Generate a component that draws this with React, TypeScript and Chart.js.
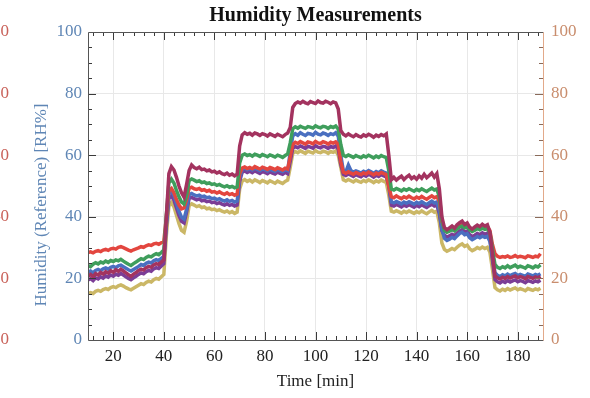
import React, { useEffect, useRef } from 'react';
import { Chart, registerables } from 'chart.js';

Chart.register(...registerables);

const TITLE = 'Humidity Measurements';
const X_TITLE = 'Time [min]';
const Y_TITLE = 'Humidity (Reference) [RH%]';

const START_MINUTE = 10;
const xTickValues = [20, 40, 60, 80, 100, 120, 140, 160, 180];
const yTickValues = [0, 20, 40, 60, 80, 100];

// one value per minute, t = 10 .. 189
const crimsonSeries = [
  20.8, 21.3, 20.5, 21.6, 21.1, 21.9, 21.4, 22.2, 21.7, 22.5, 22.0, 22.8, 22.3, 23.0, 22.4, 21.8, 21.2, 20.7, 21.4, 21.9, 22.6, 23.0, 22.7, 23.5, 23.9, 23.6, 24.4, 24.8, 24.5, 25.3, 26.0,
  40.0, 54.0, 56.3, 55.2, 52.8, 50.0, 47.8, 46.4, 50.5, 55.0, 56.8, 56.0, 55.6, 56.1, 55.3, 55.5, 54.9, 55.2, 54.6, 54.8, 54.2, 54.6, 54.0, 53.7, 54.2, 53.5, 53.9, 53.3, 53.8,
  63.0, 66.6, 67.3, 66.8, 67.1, 66.5, 67.2, 66.9, 66.4, 67.0, 66.7, 66.2, 66.9, 66.5, 66.1, 66.8, 66.4, 66.0, 66.7, 67.2,
  69.0, 75.5, 76.8, 77.3, 76.9, 77.5, 77.0, 76.7, 77.4, 77.1, 76.8, 77.6, 77.1, 76.9, 77.5, 77.2, 76.7, 77.3, 77.0, 75.0,
  68.0, 66.8, 66.3, 66.9, 66.4, 66.0, 66.7, 66.2, 65.9, 66.6, 66.2, 66.8, 66.4, 65.8, 66.5, 66.1, 66.7, 66.3, 66.9, 60.0,
  52.0, 52.8, 51.9, 52.6, 53.2, 52.1, 52.9, 53.5, 52.4, 53.0, 52.2, 53.3, 52.5, 53.8, 52.7, 53.4, 54.2, 52.9, 54.0, 49.0,
  40.0, 36.5, 35.8, 36.4, 37.0, 36.3, 37.4, 38.1, 38.6, 37.5, 38.0, 36.6, 36.0, 36.7, 37.3, 36.8, 37.6, 37.0, 37.4, 35.0,
  28.0, 20.8, 20.2, 19.8, 20.4, 20.0, 20.6, 20.1, 20.5, 20.8, 20.2, 20.6, 20.3, 19.9, 20.6, 20.3, 20.0, 20.5, 20.2, 20.7,
];

const greenSeries = [
  24.2, 23.8, 24.6, 25.1, 24.7, 25.3, 25.0, 25.6, 25.2, 25.8, 25.5, 26.0, 25.7, 26.2, 25.6, 25.1, 24.6, 24.2, 24.8, 25.3, 25.9, 26.4, 26.1, 26.8, 27.2, 27.0, 27.6, 28.0, 27.7, 28.4, 29.2,
  40.5, 51.0, 52.2, 51.0, 48.6, 46.5, 44.8, 44.2, 47.0, 51.8, 52.3, 51.9, 51.4, 51.7, 51.1, 51.3, 50.8, 51.0, 50.5, 50.7, 50.2, 50.5, 50.0, 49.7, 50.1, 49.6, 49.9, 49.4, 49.7,
  57.5, 60.0, 60.4, 59.9, 60.2, 59.7, 60.3, 60.0, 59.6, 60.2, 59.9, 59.5, 60.1, 59.8, 59.4, 60.0, 59.7, 59.3, 59.9, 60.4,
  64.0, 68.6, 69.2, 68.8, 69.4, 69.0, 68.7, 69.3, 69.1, 68.8, 69.5, 69.1, 68.9, 69.4, 69.2, 68.7, 69.3, 69.0, 69.5, 68.5,
  63.5, 60.0, 59.6, 60.1, 59.7, 59.3, 59.9, 59.5, 59.2, 59.8, 59.4, 60.0, 59.6, 59.1, 59.7, 59.3, 59.9, 59.5, 59.2, 55.0,
  49.0, 48.7, 49.2, 48.8, 48.4, 49.0, 48.6, 49.1, 48.7, 48.3, 48.9, 48.5, 49.1, 48.6, 48.2, 48.8, 49.3, 48.7, 49.0, 46.5,
  39.0, 35.6, 35.0, 35.3, 35.8, 35.4, 36.1, 36.7, 37.0, 36.4, 36.8, 35.7, 35.2, 35.6, 36.2, 35.8, 36.3, 35.9, 36.2, 34.8,
  29.5, 24.5, 23.6, 23.2, 23.8, 23.4, 24.1, 23.5, 23.9, 24.3, 23.6, 24.0, 23.7, 23.3, 24.1, 23.8, 23.4, 24.0, 23.7, 24.4,
];

const redSeries = [
  28.4, 28.6, 28.3, 28.8, 29.0, 28.7, 29.2, 29.4, 29.1, 29.6, 29.8, 29.5, 30.1, 30.3, 30.0, 29.6, 29.2, 28.9, 29.3, 29.6, 29.9, 30.3, 30.1, 30.6, 30.9, 30.7, 31.2, 31.4, 31.1, 31.6, 32.0,
  40.0, 48.5, 49.2, 47.8, 45.6, 43.8, 42.6, 42.9, 45.5, 49.3, 49.6, 49.1, 48.9, 49.2, 48.6, 48.8, 48.3, 48.6, 48.0, 48.2, 47.7, 48.1, 47.6, 47.3, 47.8, 47.2, 47.5, 47.0, 47.4,
  54.0, 55.8, 56.2, 55.7, 56.0, 55.6, 56.3, 55.9, 55.5, 56.1, 55.8, 55.4, 56.0, 55.7, 55.3, 55.9, 55.6, 55.2, 55.8, 55.5,
  59.5, 63.5, 64.2, 63.8, 64.4, 64.0, 63.6, 64.3, 64.1, 63.7, 64.5, 64.0, 63.8, 64.4, 64.1, 63.6, 64.2, 63.9, 64.3, 63.5,
  58.0, 54.5, 54.1, 54.6, 54.2, 53.8, 54.4, 54.0, 53.7, 54.3, 53.9, 54.5, 54.1, 53.6, 54.2, 53.8, 54.4, 54.0, 53.7, 50.0,
  46.5, 46.2, 46.8, 46.3, 45.9, 46.5, 46.1, 46.7, 46.2, 45.8, 46.4, 46.0, 46.6, 46.1, 45.7, 46.3, 46.8, 46.2, 46.5, 45.0,
  38.5, 36.2, 35.6, 35.9, 36.4, 36.0, 36.8, 37.5, 37.9, 37.2, 37.6, 36.4, 35.8, 36.3, 36.9, 36.5, 37.0, 36.6, 36.9, 35.5,
  31.0, 28.0, 27.2, 26.8, 27.1, 26.9, 27.3, 26.8, 27.0, 27.4, 26.9, 27.2, 27.0, 26.7, 27.3, 27.1, 26.8, 27.2, 27.0, 28.0,
];

const blueSeries = [
  22.0, 22.4, 21.8, 22.6, 22.9, 22.5, 23.1, 23.4, 23.0, 23.6, 23.9, 23.5, 24.1, 24.3, 23.8, 23.3, 22.8, 22.4, 22.9, 23.4, 23.9, 24.5, 24.2, 24.9, 25.3, 25.0, 25.7, 26.1, 25.8, 26.5, 27.2,
  38.0, 47.5, 48.3, 46.9, 44.3, 41.8, 39.9, 39.3, 42.5, 47.2, 47.6, 47.1, 46.8, 47.0, 46.5, 46.7, 46.2, 46.4, 45.9, 46.1, 45.6, 45.9, 45.4, 45.1, 45.5, 45.0, 45.3, 44.8, 45.1,
  52.5, 55.4, 55.9, 55.3, 55.7, 55.2, 55.8, 55.4, 55.0, 55.6, 55.3, 54.9, 55.5, 55.1, 54.8, 55.4, 55.0, 54.7, 55.3, 55.0,
  61.0, 66.3, 67.0, 66.5, 67.3, 66.8, 66.4, 67.1, 66.9, 66.5, 67.4, 66.8, 66.6, 67.2, 66.9, 66.4, 67.0, 66.7, 67.3, 66.2,
  60.0, 55.0, 54.6, 56.8, 55.0, 54.5, 54.9, 54.6, 54.2, 54.8, 54.4, 55.0, 54.6, 54.1, 54.7, 54.3, 54.9, 54.5, 54.2, 51.0,
  44.8, 44.5, 45.0, 44.6, 44.2, 44.8, 44.4, 44.9, 44.5, 44.1, 44.7, 44.3, 44.9, 44.4, 44.0, 44.6, 45.1, 44.5, 44.8, 42.0,
  36.0, 33.0, 32.3, 32.7, 33.3, 32.9, 33.8, 34.6, 35.0, 34.2, 34.5, 33.2, 32.6, 33.0, 33.6, 33.2, 33.7, 33.3, 33.6, 32.0,
  27.0, 21.8, 21.0, 20.6, 21.2, 20.8, 21.4, 20.9, 21.3, 21.6, 20.9, 21.3, 21.0, 20.7, 21.4, 21.1, 20.8, 21.3, 21.0, 21.5,
];

const purpleSeries = [
  19.5, 19.9, 19.3, 20.2, 19.8, 20.5, 20.1, 20.8, 20.4, 21.1, 20.7, 21.4, 21.0, 21.6, 21.1, 20.5, 20.0, 19.6, 20.2, 20.7, 21.3, 21.8, 21.5, 22.2, 22.6, 22.3, 23.1, 23.5, 23.2, 24.0, 24.8,
  37.0, 46.0, 46.8, 45.4, 42.9, 40.4, 38.5, 38.0, 41.5, 46.0, 46.3, 45.9, 45.5, 45.8, 45.2, 45.4, 44.9, 45.1, 44.6, 44.8, 44.3, 44.6, 44.1, 43.8, 44.2, 43.7, 44.0, 43.5, 43.8,
  51.5, 54.5, 54.9, 54.4, 54.8, 54.3, 54.9, 54.5, 54.1, 54.7, 54.4, 54.0, 54.6, 54.2, 53.9, 54.5, 54.1, 53.8, 54.4, 54.0,
  58.0, 62.2, 62.8, 62.4, 63.0, 62.6, 62.2, 62.9, 62.6, 62.3, 63.1, 62.6, 62.4, 62.9, 62.7, 62.2, 62.8, 62.5, 63.0, 62.0,
  57.0, 53.8, 53.4, 53.9, 53.5, 53.1, 53.7, 53.3, 53.0, 53.6, 53.2, 53.8, 53.4, 52.9, 53.5, 53.1, 53.7, 53.3, 53.0, 50.0,
  43.8, 43.5, 44.0, 43.6, 43.2, 43.8, 43.4, 43.9, 43.5, 43.1, 43.7, 43.3, 43.9, 43.4, 43.0, 43.6, 44.1, 43.5, 43.8, 41.0,
  35.5, 34.0, 33.4, 33.8, 34.3, 33.9, 34.7, 35.4, 35.8, 35.0, 35.4, 34.2, 33.6, 34.0, 34.6, 34.2, 34.8, 34.3, 34.7, 33.0,
  26.0, 19.6, 18.9, 18.5, 19.1, 18.7, 19.3, 18.8, 19.2, 19.5, 18.9, 19.3, 19.0, 18.6, 19.3, 19.0, 18.7, 19.2, 18.9, 19.4,
];

const yellowSeries = [
  15.0, 15.4, 15.1, 15.8, 16.1, 15.8, 16.4, 16.7, 16.4, 17.0, 17.3, 17.0, 17.6, 17.9, 17.5, 17.0, 16.6, 16.3, 16.8, 17.3, 17.8, 18.3, 18.0, 18.7, 19.1, 18.8, 19.6, 20.0, 19.7, 20.5, 21.3,
  34.0, 43.5, 44.6, 43.2, 40.5, 37.8, 35.6, 35.0, 38.5, 43.6, 44.2, 43.8, 43.3, 43.6, 43.0, 43.2, 42.6, 42.8, 42.3, 42.5, 42.0, 42.3, 41.8, 41.5, 41.9, 41.3, 41.7, 41.1, 41.5,
  49.0, 51.6, 52.1, 51.5, 51.9, 51.3, 52.0, 51.6, 51.1, 51.8, 51.4, 51.0, 51.7, 51.3, 50.9, 51.6, 51.2, 50.8, 51.5, 51.9,
  56.0, 60.6, 61.2, 60.8, 61.4, 61.0, 60.6, 61.3, 61.0, 60.7, 61.5, 61.0, 60.8, 61.3, 61.1, 60.6, 61.2, 60.9, 61.4, 60.0,
  56.0, 52.0, 51.6, 52.1, 51.7, 51.3, 51.9, 51.5, 51.2, 51.8, 51.4, 52.0, 51.6, 51.1, 51.7, 51.3, 51.9, 51.5, 51.2, 47.0,
  41.8, 41.5, 42.0, 41.6, 41.2, 41.8, 41.4, 41.9, 41.5, 41.1, 41.7, 41.3, 41.9, 41.4, 41.0, 41.6, 42.1, 41.5, 41.8, 38.0,
  31.5, 29.4, 28.8, 29.2, 29.7, 29.3, 30.1, 30.8, 31.2, 30.4, 30.8, 29.6, 29.0, 29.4, 30.0, 29.6, 30.2, 29.7, 30.1, 28.5,
  23.0, 17.0, 16.3, 15.9, 16.5, 16.1, 16.7, 16.2, 16.6, 16.9, 16.3, 16.7, 16.4, 16.0, 16.7, 16.4, 16.1, 16.6, 16.3, 16.8,
];

const minutes = crimsonSeries.map((_, i) => START_MINUTE + i);

const SERIES = [
  { name: 'S1', values: crimsonSeries, color: '#a3335f' },
  { name: 'S2', values: greenSeries, color: '#3f9e5c' },
  { name: 'S3', values: redSeries, color: '#e3463f' },
  { name: 'S4', values: blueSeries, color: '#4a6fc0' },
  { name: 'S5', values: purpleSeries, color: '#7b3d96' },
  { name: 'S6', values: yellowSeries, color: '#cbb766' },
];

const SERIF = "'Liberation Serif', 'DejaVu Serif', serif";
const BLUE_TXT = '#5f86b5';
const TAN_TXT = '#c98d6d';
const RED_TXT = '#c9625a';

const innerTicks = {
  id: 'innerTicks',
  afterDatasetsDraw(chart: any) {
    const { ctx, chartArea, scales } = chart;
    const { left, right, top, bottom } = chartArea;
    const xs = scales.x;
    const ys = scales.y;
    ctx.save();
    ctx.lineWidth = 1;
    ctx.strokeStyle = '#3a3a3a';
    for (let v = 12; v <= 188; v += 4) {
      const px = Math.round(xs.getPixelForValue(v)) + 0.5;
      const major = v % 20 === 0;
      const len = major ? 8 : 4;
      ctx.beginPath();
      ctx.moveTo(px, bottom);
      ctx.lineTo(px, bottom - len);
      ctx.moveTo(px, top);
      ctx.lineTo(px, top + len);
      ctx.stroke();
    }
    for (let v = 5; v < 100; v += 5) {
      const py = Math.round(ys.getPixelForValue(v)) + 0.5;
      const major = v % 20 === 0;
      const len = major ? 8 : 4;
      ctx.strokeStyle = '#3a3a3a';
      ctx.beginPath();
      ctx.moveTo(left, py);
      ctx.lineTo(left + len, py);
      ctx.stroke();
      ctx.strokeStyle = '#8a6a5a';
      ctx.beginPath();
      ctx.moveTo(right, py);
      ctx.lineTo(right - len, py);
      ctx.stroke();
    }
    ctx.strokeStyle = '#555555';
    ctx.beginPath();
    ctx.moveTo(left + 0.5, bottom + 0.5);
    ctx.lineTo(left + 0.5, top + 0.5);
    ctx.lineTo(right + 0.5, top + 0.5);
    ctx.moveTo(left + 0.5, bottom + 0.5);
    ctx.lineTo(right + 0.5, bottom + 0.5);
    ctx.stroke();
    ctx.strokeStyle = '#e2a98a';
    ctx.beginPath();
    ctx.moveTo(right + 0.5, top + 0.5);
    ctx.lineTo(right + 0.5, bottom + 0.5);
    ctx.stroke();
    ctx.restore();
  },
  afterDraw(chart: any) {
    const { ctx, chartArea } = chart;
    ctx.save();
    ctx.fillStyle = BLUE_TXT;
    ctx.font = `17px ${SERIF}`;
    ctx.textAlign = 'center';
    ctx.textBaseline = 'middle';
    const cy = (chartArea.top + chartArea.bottom) / 2 + 19;
    ctx.translate(72, cy);
    ctx.rotate(-Math.PI / 2);
    ctx.fillText(Y_TITLE, 0, 0);
    ctx.restore();
  },
};

function setTicks(values: number[]) {
  return (scale: any) => {
    scale.ticks = values.map((v) => ({ value: v }));
  };
}

export default function App() {
  const ref = useRef<HTMLCanvasElement | null>(null);

  useEffect(() => {
    if (!ref.current) return;
    const chart = new Chart(ref.current, {
      type: 'line',
      data: {
        datasets: SERIES.map((s) => ({
          label: s.name,
          data: minutes.map((t, i) => ({ x: t, y: s.values[i] })),
          borderColor: s.color,
          backgroundColor: s.color,
          borderWidth: 3.5,
          pointRadius: 0,
          tension: 0,
          yAxisID: 'y',
        })),
      },
      options: {
        animation: false,
        responsive: false,
        events: [],
        layout: { padding: 0 },
        plugins: {
          legend: { display: false },
          tooltip: { enabled: false },
          title: {
            display: true,
            text: TITLE,
            fullSize: false,
            color: '#111111',
            font: { family: SERIF, size: 20, weight: 'bold' },
            padding: { top: 4, bottom: 4 },
          },
        },
        scales: {
          x: {
            type: 'linear',
            min: 10,
            max: 190,
            afterBuildTicks: setTicks(xTickValues),
            afterFit: (s: any) => { s.height = 58; },
            grid: { color: '#e8e8e8', drawTicks: false },
            border: { display: false },
            ticks: { color: '#222222', padding: 6, font: { family: SERIF, size: 17 } },
            title: {
              display: true,
              text: X_TITLE,
              color: '#222222',
              font: { family: SERIF, size: 17 },
              padding: { top: 0, bottom: 6 },
            },
          },
          y: {
            type: 'linear',
            position: 'left',
            weight: 0,
            min: 0,
            max: 100,
            afterBuildTicks: setTicks(yTickValues),
            afterFit: (s: any) => { s.width = 76; },
            grid: { color: '#e8e8e8', drawTicks: false },
            border: { display: false },
            ticks: { color: BLUE_TXT, padding: 6, font: { family: SERIF, size: 17 } },
            title: { display: false },
          },
          yOuter: {
            type: 'linear',
            position: 'left',
            weight: 1,
            min: 0,
            max: 100,
            afterBuildTicks: setTicks(yTickValues),
            afterFit: (s: any) => { s.width = 42; },
            grid: { display: false, drawTicks: false },
            border: { display: false },
            ticks: { color: RED_TXT, padding: 3, font: { family: SERIF, size: 17 } },
          },
          yRight: {
            type: 'linear',
            position: 'right',
            min: 0,
            max: 100,
            afterBuildTicks: setTicks(yTickValues),
            afterFit: (s: any) => { s.width = 47; },
            grid: { display: false, drawTicks: false },
            border: { display: false },
            ticks: { color: TAN_TXT, padding: 8, font: { family: SERIF, size: 17 } },
          },
        },
      },
      plugins: [innerTicks],
    } as any);
    return () => chart.destroy();
  }, []);

  return (
    <div style={{ position: 'absolute', left: -30, top: 0, width: 620, height: 398, overflow: 'hidden', background: '#ffffff' }}>
      <canvas ref={ref} width={620} height={398} style={{ display: 'block' }} />
    </div>
  );
}
